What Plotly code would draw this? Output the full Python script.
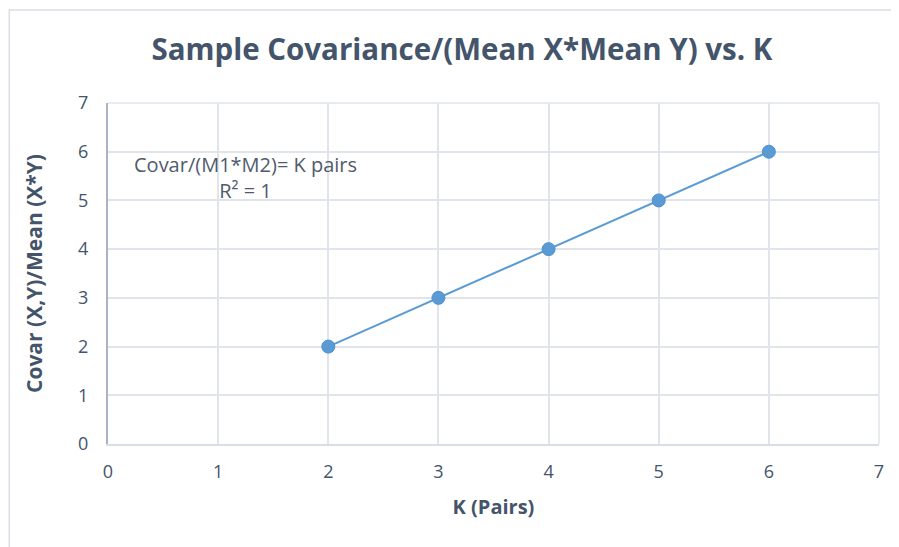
"""Sample covariance / (mean X * mean Y) vs K, Excel-style scatter."""

import plotly.graph_objects as go

K_PAIRS = [2, 3, 4, 5, 6]
COVAR_RATIO = [2, 3, 4, 5, 6]
TICKS = [0, 1, 2, 3, 4, 5, 6, 7]

TEXT = "#44546A"
GRID = "#E1E5EB"
BLUE = "#5B9BD5"
FONT = "Open Sans"

fig = go.Figure()
fig.add_trace(go.Scatter(
    x=K_PAIRS, y=COVAR_RATIO,
    mode="lines+markers",
    line=dict(color=BLUE, width=2),
    marker=dict(color=BLUE, size=13, line=dict(color="#4F8FCB", width=1)),
    showlegend=False,
))

# page body has an 8px margin, so the figure is sized to fit the window
fig.update_layout(
    width=891, height=539,
    plot_bgcolor="#ffffff",
    paper_bgcolor="#ffffff",
    font=dict(family=FONT, color=TEXT, size=18),
    margin=dict(l=100, r=20, t=95, b=103),
    title=dict(
        text="<b>Sample Covariance/(Mean X*Mean Y) vs. K</b>",
        x=0.5095, xanchor="center", y=0.922, yanchor="middle",
        font=dict(family=FONT, size=29.5, color=TEXT),
    ),
    xaxis=dict(
        range=[0, 7], tickvals=TICKS, showgrid=True, gridcolor=GRID, gridwidth=1.5,
        zeroline=False, showline=True, linecolor="#D9DEE6", linewidth=2,
        ticks="", ticklabelstandoff=10,
        tickfont=dict(size=18, color=TEXT),
        title=dict(text="<b>K (Pairs)</b>", font=dict(size=20, color=TEXT), standoff=18),
    ),
    yaxis=dict(
        range=[0, 7], tickvals=TICKS, showgrid=True, gridcolor=GRID, gridwidth=1.5,
        zeroline=False, showline=True, linecolor="#A9B3C2", linewidth=2,
        ticks="", ticklabelstandoff=14,
        tickfont=dict(size=18, color=TEXT),
        title=dict(text="<b>Covar (X,Y)/Mean (X*Y)</b>", font=dict(size=21, color=TEXT), standoff=30),
    ),
    annotations=[dict(
        text="Covar/(M1*M2)= K pairs<br>R² = 1",
        xref="x", yref="y", x=1.244, y=5.48, showarrow=False,
        align="center", font=dict(family=FONT, size=20, color="#4F5B6C"),
    )],
    shapes=[
        dict(type="rect", xref="paper", yref="paper",
             x0=-0.128, x1=1.1, y0=-0.4, y1=1.2727,
             line=dict(color="#D9DEE6", width=1.5), layer="below"),
        dict(type="line", xref="paper", yref="paper",
             x0=1, x1=1, y0=0, y1=1, line=dict(color=GRID, width=1.5)),
        dict(type="line", xref="paper", yref="paper",
             x0=0, x1=1, y0=1, y1=1, line=dict(color=GRID, width=1.5)),
    ],
)

fig.write_html("out.html")
